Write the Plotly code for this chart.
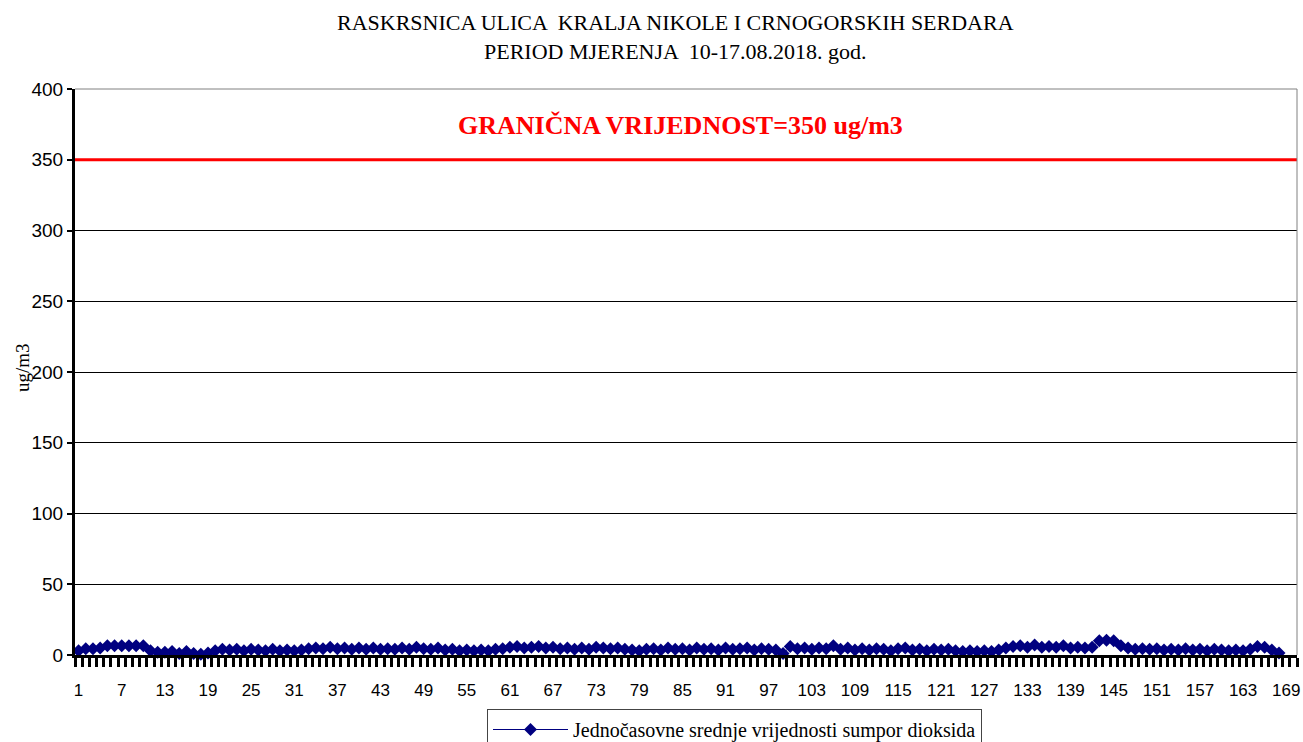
import plotly.graph_objects as go

# ---- data ----
hours = list(range(1, 169))
so2_values = [
    3, 4.5, 4.5, 5, 6.5, 6.5, 6.5, 6.5, 6.5, 6.5,
    3, 2, 2, 2.5, 1, 2.5, 1, 0.5, 1.5, 3,
    4, 3.5, 4, 3, 4, 3.5, 3, 4, 3, 3.5,
    3, 3.5, 4.5, 5, 4.5, 5.5, 4.5, 5, 4, 5,
    4, 5, 4, 4.5, 4, 5, 4, 5.5, 4.5, 4,
    5, 3.5, 4, 3, 3.5, 3, 3.5, 3, 4, 4.5,
    5.5, 6, 5, 5.5, 6, 5, 5.5, 4.5, 5, 4,
    5, 4, 5.5, 5, 4.5, 5, 4, 3.5, 3, 4,
    4.5, 3.5, 5, 4, 4.5, 3.5, 5, 4, 4.5, 3.5,
    5, 4, 4.5, 5, 3.5, 4.5, 4, 3.5, 1, 6,
    4.5, 5, 4, 5, 4.5, 6.5, 4, 5, 3.5, 4.5,
    3.5, 4.5, 4, 3, 4.5, 5, 3.5, 4, 3, 4,
    3.5, 4, 3, 2.5, 3, 2.5, 3, 2.5, 3.5, 5,
    6, 6.5, 5.5, 7, 5.5, 6, 5.5, 6.5, 5, 5.5,
    5, 5.5, 10, 10.5, 10, 6.5, 5, 4, 4.5, 4,
    4.5, 3.5, 4, 3.5, 4.5, 3.5, 4, 3, 4, 3.5,
    3, 3.5, 3, 4, 6, 5.5, 3.5, 1.5,
]
n_categories = 170
x_tick_vals = list(range(1, 170, 6))
LIMIT = 350
series_name = "Jednočasovne srednje vrijednosti sumpor dioksida"
title_line1 = "RASKRSNICA ULICA  KRALJA NIKOLE I CRNOGORSKIH SERDARA"
title_line2 = "PERIOD MJERENJA  10-17.08.2018. god."
limit_label = "GRANIČNA VRIJEDNOST=350 ug/m3"
y_title = "ug/m3"

W, H = 1303, 742
L, R, T, B = 75, 6, 89, 87
pw = W - L - R
ph = H - T - B

def px_x(x):
    return (x - L) / pw

def px_y(y):
    return (H - B - y) / ph

serif = "Liberation Serif, Times New Roman, serif"
sans = "Liberation Sans, Arial, sans-serif"

fig = go.Figure()
fig.add_trace(go.Scatter(
    x=hours, y=so2_values, mode="lines+markers", name=series_name,
    line=dict(color="#000080", width=1),
    marker=dict(symbol="diamond", size=10, color="#000080"),
    cliponaxis=False,
))
fig.add_hline(y=LIMIT, line=dict(color="#ff0000", width=3), layer="above")

fig.update_layout(
    width=W, height=H,
    margin=dict(l=L, r=R, t=T, b=B, autoexpand=False),
    paper_bgcolor="white", plot_bgcolor="white",
    showlegend=True,
    legend=dict(
        xref="container", yref="container",
        x=487 / W, y=1 - 709 / H, xanchor="left", yanchor="top",
        bordercolor="#444444", borderwidth=1,
        font=dict(family=serif, size=20, color="black"),
        itemwidth=75,
    ),
    xaxis=dict(
        range=[0.5, n_categories + 0.5],
        tickmode="array", tickvals=x_tick_vals,
        ticks="", showgrid=False, zeroline=False, automargin=False,
        showline=True, linecolor="black", linewidth=3,
        tickfont=dict(family=sans, size=17, color="black"),
        minor=dict(ticks="outside", tick0=0.5, dtick=1, ticklen=9,
                   tickwidth=3, tickcolor="black", showgrid=False),
        ticklabelstandoff=18,
    ),
    yaxis=dict(
        range=[0, 400], dtick=50, tick0=0,
        showgrid=True, gridcolor="black", gridwidth=1,
        zeroline=False, automargin=False,
        showline=True, linecolor="black", linewidth=3,
        ticks="outside", ticklen=5, tickwidth=2, tickcolor="black",
        tickfont=dict(family=sans, size=19, color="black"),
    ),
)

# plot-area border (top/right), gray
fig.add_shape(type="line", xref="x domain", yref="y domain", x0=0, x1=1, y0=1, y1=1,
              line=dict(color="#808080", width=1))
fig.add_shape(type="line", xref="x domain", yref="y domain", x0=1, x1=1, y0=0, y1=1,
              line=dict(color="#808080", width=1))

fig.add_annotation(text=title_line1, xref="paper", yref="paper",
                   x=px_x(675), y=px_y(22), xanchor="center", yanchor="middle",
                   showarrow=False, font=dict(family=serif, size=22, color="black"))
fig.add_annotation(text=title_line2, xref="paper", yref="paper",
                   x=px_x(675), y=px_y(52), xanchor="center", yanchor="middle",
                   showarrow=False, font=dict(family=serif, size=22, color="black"))
fig.add_annotation(text="<b>" + limit_label + "</b>", xref="paper", yref="paper",
                   x=px_x(680), y=px_y(125), xanchor="center", yanchor="middle",
                   showarrow=False, font=dict(family=serif, size=26, color="#ff0000"))
fig.add_annotation(text=y_title, xref="paper", yref="paper",
                   x=px_x(22), y=px_y(368), xanchor="center", yanchor="middle",
                   textangle=-90, showarrow=False,
                   font=dict(family=serif, size=19, color="black"))

fig.write_html("out.html",
               config={"displayModeBar": False},
               post_script="document.body.style.margin='0';"
                           "document.documentElement.style.overflow='hidden';"
                           "document.body.style.overflow='hidden';")
